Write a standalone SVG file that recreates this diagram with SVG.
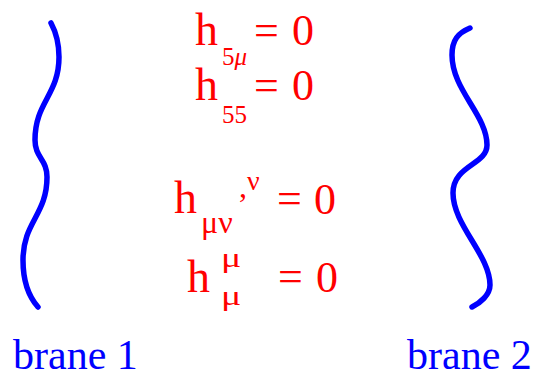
<svg xmlns="http://www.w3.org/2000/svg" width="540" height="377" viewBox="0 0 540 377">
<style>
.brane{fill:none;stroke:#0000ff;stroke-width:5.5;stroke-linecap:round;stroke-linejoin:round}
text{font-family:"Liberation Serif","Times New Roman",serif}
.lbl{font-size:42px;fill:#0000ff}
.h{font-size:46px;fill:#ff0000}
.eq{font-size:44px;fill:#ff0000}
.sub{font-size:25px;fill:#ff0000}
.gr{font-size:32px;fill:#ff0000}
.gs{font-size:28px;fill:#ff0000}
</style>
<rect width="540" height="377" fill="#ffffff"/>
<g id="brane1">
<path class="brane" d="M51,23 Q59,38 59,57 C59,95 35,102 35,140 C35,158 47,159 47,177 C47,215 23,222 23,260 C23,285 30,298 38,307"/>
<text class="lbl" x="13" y="369">brane 1</text>
</g>
<g id="brane2">
<path class="brane" d="M470,28 C458,33 452,40 452,55 C452,90 487,115 487,145 C487,165 453,165 453,193 C453,225 490,255 490,285 C490,295 480,303 472,307"/>
<text class="lbl" x="407" y="369">brane 2</text>
</g>
<g id="equations">
<text class="h" x="195" y="45">h</text>
<text class="sub" x="222" y="65">5<tspan font-style="italic">μ</tspan></text>
<text class="eq" x="254" y="45">=</text>
<text class="eq" x="292" y="45">0</text>

<text class="h" x="195" y="100">h</text>
<text class="sub" x="222" y="123">55</text>
<text class="eq" x="254" y="100">=</text>
<text class="eq" x="292" y="100">0</text>

<text class="h" x="174" y="213">h</text>
<text class="gr" x="201" y="233">μν</text>
<text class="gr" x="239" y="197">,</text>
<text class="gs" x="247" y="190">ν</text>
<text class="eq" x="277" y="213">=</text>
<text class="eq" x="314" y="214">0</text>

<text class="h" x="187" y="292">h</text>
<text class="gs" transform="translate(221,267) scale(1.35,1)">μ</text>
<text class="gs" transform="translate(221,305) scale(1.35,1)">μ</text>
<text class="eq" x="278" y="291">=</text>
<text class="eq" x="316" y="292">0</text>
</g>
</svg>
